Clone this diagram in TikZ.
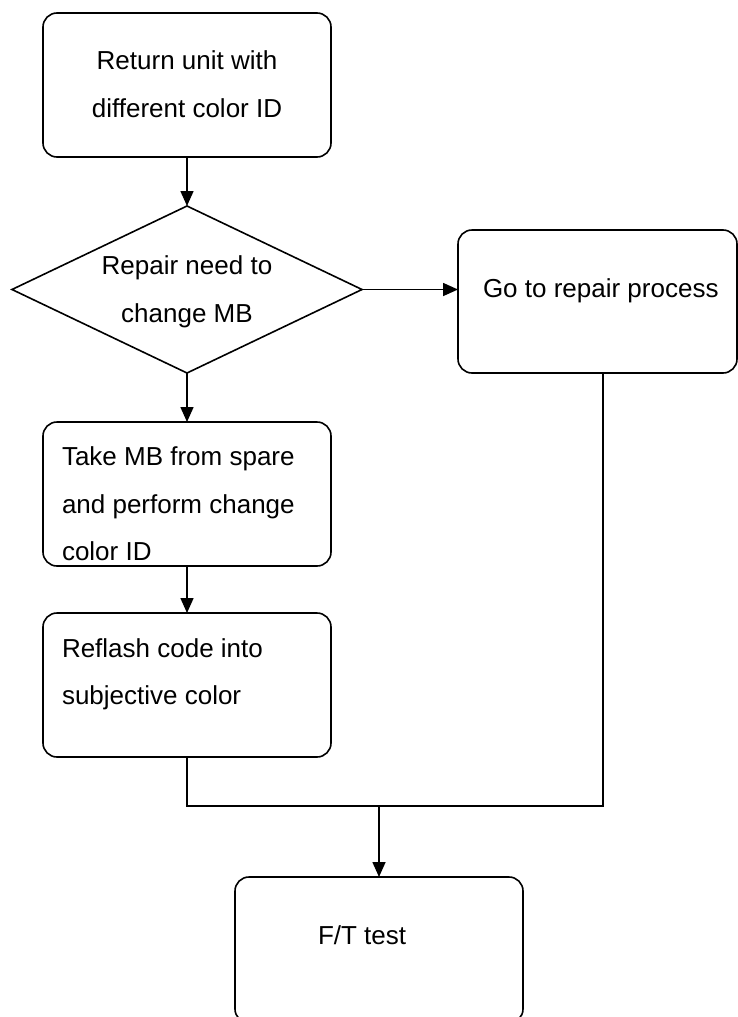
\documentclass[tikz,border=0pt]{standalone}
\usepackage{fontspec}
\setmainfont{Liberation Sans}
\usetikzlibrary{shapes.geometric,arrows.meta}
\begin{document}
\begin{tikzpicture}[x=1pt,y=-1pt,
  box/.style={draw,rectangle,rounded corners=14pt,inner sep=0pt,outer sep=0pt,anchor=north west,line width=1.6pt},
  dec/.style={draw,diamond,inner sep=0pt,outer sep=0pt,minimum width=350pt,minimum height=167pt,line width=1.6pt},
  txt/.style={inner sep=0pt,outer sep=0pt,font=\fontsize{26}{30}\selectfont},
  conn/.style={line width=1.6pt},
  arr/.style={line width=1.6pt,-{Triangle[width=13pt,length=15pt]}}]
\useasboundingbox (0,0) rectangle (738,1017);
\clip (0,0) rectangle (738,1017);
% shapes
\node[box,minimum width=288pt,minimum height=144pt] (ret) at (43,13) {};
\node[dec] (dia) at (187,289.5) {};
\node[box,minimum width=279pt,minimum height=143pt] (go) at (458,230) {};
\node[box,minimum width=288pt,minimum height=144pt] (take) at (43,422) {};
\node[box,minimum width=288pt,minimum height=144pt] (ref) at (43,613) {};
\node[box,minimum width=288pt,minimum height=146pt] (ft) at (235,877) {};
% texts
\node[txt,anchor=base] (t1) at (187,69) {Return unit with};
\node[txt,anchor=base] (t2) at (187,117) {different color ID};
\node[txt,anchor=base] (t3) at (187,274) {Repair need to};
\node[txt,anchor=base] (t4) at (187,322) {change MB};
\node[txt,anchor=base west] (t5) at (483,297) {Go to repair process};
\node[txt,anchor=base west] (t6) at (62,465) {Take MB from spare};
\node[txt,anchor=base west] (t7) at (62,513) {and perform change};
\node[txt,anchor=base west] (t8) at (62,560) {color ID};
\node[txt,anchor=base west] (t9) at (62,657) {Reflash code into};
\node[txt,anchor=base west] (t10) at (62,704) {subjective color};
\node[txt,anchor=base west] (t11) at (318,944) {F/T test};
% connectors
\coordinate (join) at (379,806);
\coordinate (goout) at (603,373);
\draw[arr] (ret.south) -- (dia.north);
\draw[arr] (dia.east) -- (dia.east -| go.west);
\draw[arr] (dia.south) -- (take.north);
\draw[arr] (take.south) -- (ref.north);
\draw[conn] (ref.south) |- (join);
\draw[conn] (goout) |- (join);
\draw[arr] (join) -- (ft.north);
\end{tikzpicture}
\end{document}
